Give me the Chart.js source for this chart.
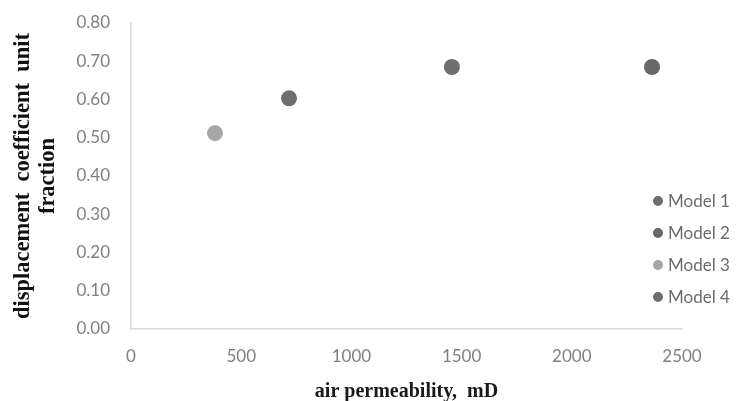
<!DOCTYPE html>
<html>
<head>
<meta charset="utf-8">
<script src="https://cdn.jsdelivr.net/npm/chart.js@4.4.0/dist/chart.umd.min.js"></script>
<style>
  html, body { margin: 0; padding: 0; background: #fff; }
  #wrap { width: 738px; height: 401px; }
</style>
</head>
<body>
<div id="wrap"><canvas id="chart"></canvas></div>
<script>
// values
const models = ['Model 1', 'Model 2', 'Model 3', 'Model 4'];
const permeability = [1456, 2364, 381, 717];
const displacement = [0.685, 0.685, 0.512, 0.603];
const colors = ['#6e6e6e', '#686868', '#a6a6a6', '#6e6e6e'];
const xTicks = [0, 500, 1000, 1500, 2000, 2500];
const yTicks = [0, 0.1, 0.2, 0.3, 0.4, 0.5, 0.6, 0.7, 0.8];

const datasets = models.map((name, i) => ({
  label: name,
  data: [{ x: permeability[i], y: displacement[i] }],
  backgroundColor: colors[i],
  borderColor: colors[i],
  pointRadius: 8,
  pointHoverRadius: 8,
  borderWidth: 0,
}));

// legend drawn by hand so it can sit over the right end of the plot
const sideLegend = {
  id: 'sideLegend',
  afterDraw(chart) {
    const ctx = chart.ctx;
    ctx.save();
    ctx.font = '17px Lato';
    ctx.textBaseline = 'middle';
    ctx.textAlign = 'left';
    chart.data.datasets.forEach((ds, i) => {
      const y = 201 + i * 32;
      ctx.fillStyle = ds.backgroundColor;
      ctx.beginPath();
      ctx.arc(658, y, 5, 0, Math.PI * 2);
      ctx.fill();
      ctx.fillStyle = '#6b6b6b';
      ctx.fillText(ds.label, 668, y + 1);
    });
    ctx.restore();
  }
};

const tickFont = { family: 'Lato', size: 17 };
const tickColor = '#808080';

new Chart(document.getElementById('chart'), {
  type: 'scatter',
  data: { datasets },
  options: {
    responsive: true,
    maintainAspectRatio: false,
    animation: false,
    layout: { padding: { left: 0, top: 23, right: 56, bottom: 0 } },
    plugins: {
      legend: { display: false },
      tooltip: { enabled: false },
    },
    scales: {
      x: {
        type: 'linear',
        min: 0,
        max: 2500,
        afterBuildTicks: (s) => { s.ticks = xTicks.map(v => ({ value: v })); },
        afterFit: (s) => { s.height = 72; s.paddingLeft = 0; s.paddingRight = 0; },
        grid: { display: false, drawTicks: false },
        border: { display: true, color: '#d9d9d9', width: 1.5 },
        ticks: { font: tickFont, color: tickColor, padding: 17, callback: (v) => String(v) },
        title: {
          display: true,
          text: 'air permeability,  mD',
          font: { family: 'Liberation Serif', size: 20, weight: 'bold', lineHeight: 1.0 },
          color: '#1a1a1a',
          padding: { top: 0, bottom: -1 },
        },
      },
      y: {
        min: 0,
        max: 0.8,
        afterBuildTicks: (s) => { s.ticks = yTicks.map(v => ({ value: v })); },
        afterFit: (s) => { s.width = 131; s.paddingTop = 0; s.paddingBottom = 0; },
        grid: { display: false, drawTicks: false },
        border: { display: true, color: '#d9d9d9', width: 1.5 },
        ticks: {
          font: tickFont,
          color: tickColor,
          padding: 21,
          callback: (v) => v.toFixed(2),
        },
        title: {
          display: true,
          text: ['displacement  coefficient  unit', 'fraction'],
          font: { family: 'Liberation Serif', size: 22.5, weight: 'bold', lineHeight: 1.1 },
          color: '#111',
          padding: { top: 11, bottom: 0 },
        },
      },
    },
  },
  plugins: [sideLegend],
});
</script>
</body>
</html>
